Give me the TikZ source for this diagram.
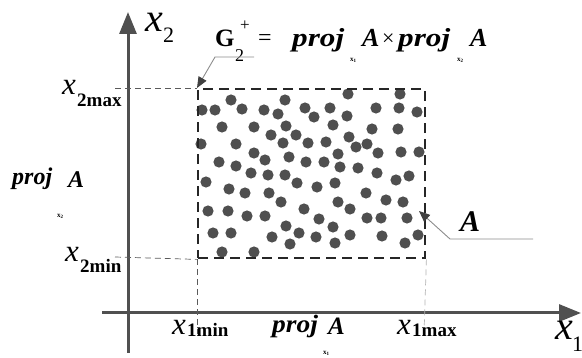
\documentclass[tikz,border=0pt]{standalone}
\usepackage{fontspec}
\usepackage{graphicx}
\setmainfont{Liberation Serif}
\usetikzlibrary{arrows.meta}
\definecolor{axc}{HTML}{505050}
\definecolor{dotc}{HTML}{4F4F4F}
\definecolor{callc}{HTML}{8C8C8C}
\definecolor{guidec}{HTML}{5A5A5A}
\newcommand\fs[1]{\fontsize{#1}{#1}\selectfont}
\newcommand\sx[2]{\scalebox{#1}[1]{#2}}
\begin{document}
\begin{tikzpicture}[x=1pt,y=-1pt,
  axis/.style={draw=axc, line width=3pt, -{Triangle[length=22pt,width=17pt,color=axc]}},
  boxst/.style={draw=black!85, line width=2.4pt, dash pattern=on 10pt off 6pt, inner sep=0, minimum width=227pt, minimum height=169pt, anchor=north west},
  guide/.style={draw=guidec, line width=0.7pt, dash pattern=on 6pt off 4pt},
  call/.style={draw=callc, line width=0.9pt, -{Triangle[length=11pt,width=9pt,color=black!75]}},
  lab/.style={inner sep=0, anchor=base west},
  ximain/.style={lab, font=\fs{31}\itshape},
  xsub/.style={lab, font=\fs{19}\bfseries},
  projf/.style={lab, font=\fs{24}\bfseries\itshape},
  tiny/.style={lab, font=\fs{7}\bfseries},
  dotst/.style={fill=dotc}]
\useasboundingbox (0,0) rectangle (582,358);

% dots
\foreach \p in {(202,110),(215,110),(231,100),(242,109),(264,110),(285,100),(278,114),(305,108),(314,117),(330,108),(348,94),(347,116),(376,108),(400,94),(399,108),(417,112),
(222,127),(254,127),(286,126),(271,135),(296,135),(333,125),(372,129),(398,129),
(201,144),(236,144),(254,153),(283,143),(308,143),(326,142),(349,137),(356,147),(367,144),(378,153),(401,152),(419,152),
(219,162),(236,166),(265,160),(289,157),(306,162),(324,162),(338,154),(340,167),(358,168),(377,173),
(251,173),(268,175),(285,175),(297,183),(317,187),(335,183),(396,180),(409,176),
(206,182),(229,189),(245,193),(269,193),(281,202),(338,202),(366,193),(386,200),(403,202),
(208,211),(228,211),(247,216),(265,216),(304,209),(319,219),(350,209),(367,218),(381,218),(407,218),
(286,226),(333,227),
(213,233),(231,233),(272,237),(299,233),(316,237),(350,235),(382,236),(418,235),
(290,244),(335,243),(405,243),
(222,252),(254,252)}
  \fill[dotst] \p circle (5.6);

% box
\node[boxst] (box) at (197,88) {};

% axes
\coordinate (yb) at (128,353);
\coordinate (yt) at (128,12);
\coordinate (xl) at (102,313);
\coordinate (xr) at (581,313);
\draw[axis] (yb) -- (yt);
\draw[axis] (xl) -- (xr);

% guides
\coordinate (g1) at (115,88);
\coordinate (g2) at (115,257);
\coordinate (g3) at (197,334);
\coordinate (g4) at (424,334);
\draw[guide] (g1) -- (box.north west);
\draw[guide] (g2) -- (box.south west);
\draw[guide] (box.south west) -- (g3);
\draw[guide, draw=gray!60] (box.south east) -- (g4);

% axis labels
\node[lab, font=\fs{40}\itshape] (ax2) at (145,32) {x};
\node[lab, font=\fs{22}] (ax2s) at (163,43) {2};
\node[lab, font=\fs{40}\itshape] (ax1) at (555,340) {x};
\node[lab, font=\fs{22}] (ax1s) at (572,352) {1};

% tick labels
\node[ximain] (a1) at (62,95) {x};
\node[xsub] (a1s) at (77,107) {2max};
\node[ximain] (b1) at (65,262) {x};
\node[xsub] (b1s) at (80,273) {2min};
\node[ximain] (c1) at (172,335) {x};
\node[xsub] (c1s) at (187,337) {1min};
\node[ximain] (d1) at (397,335) {x};
\node[xsub] (d1s) at (412,337) {1max};

% left proj
\node[projf] (lp) at (12,185) {proj};
\node[tiny] (lps) at (57,218) {x\textsubscript{2}};
\node[projf] (lA) at (68,188) {A};

% bottom proj
\node[projf, font=\fs{25}\bfseries\itshape] (bp) at (272,333) {\sx{1.1}{proj}};
\node[tiny] (bps) at (323,355) {x\textsubscript{1}};
\node[projf, font=\fs{25}\bfseries\itshape] (bA) at (328,335) {A};

% top equation
\node[lab, font=\fs{25}\bfseries] (G) at (215,47) {G};
\node[lab, font=\fs{17}] (Gp) at (240,31) {+};
\node[lab, font=\fs{18}] (G2) at (235,62) {2};
\node[lab, font=\fs{24}] (eq) at (258,46) {=};
\node[projf, font=\fs{26}\bfseries\itshape] (tp1) at (292,47) {\sx{1.2}{proj}};
\node[tiny] (tp1s) at (350,62) {x\textsubscript{1}};
\node[projf, font=\fs{26}\bfseries\itshape] (tA1) at (362,47) {A};
\node[lab, font=\fs{22}] (times) at (382,46) {×};
\node[projf, font=\fs{26}\bfseries\itshape] (tp2) at (398,47) {\sx{1.2}{proj}};
\node[tiny] (tp2s) at (457,62) {x\textsubscript{2}};
\node[projf, font=\fs{26}\bfseries\itshape] (tA2) at (470,47) {A};

% callouts
\node[lab, font=\fs{30}\bfseries\itshape] (Alab) at (460,232) {A};
\coordinate (c1a) at (254,57);
\coordinate (c1b) at (215,57);
\coordinate (c2a) at (533,239);
\coordinate (c2b) at (450,239);
\coordinate (c2t) at (419,211);
\draw[call] (c1a) -- (c1b) -- (box.north west);
\draw[call] (c2a) -- (c2b) -- (c2t);
\end{tikzpicture}
\end{document}
